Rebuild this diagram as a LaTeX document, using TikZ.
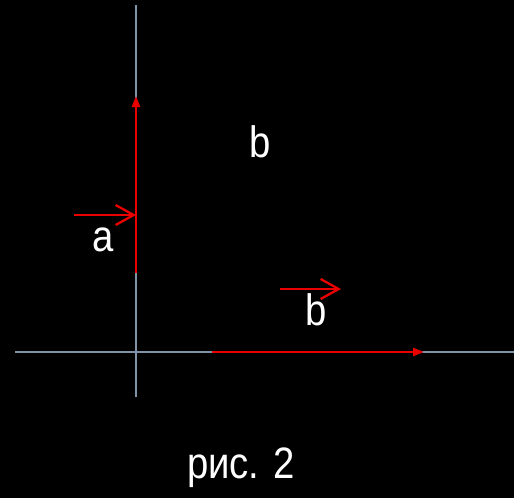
\documentclass[tikz,border=0pt]{standalone}
\usepackage{fontspec}
\setmainfont[FakeStretch=0.87]{Liberation Sans}
\usetikzlibrary{arrows.meta}
\definecolor{axisgray}{RGB}{128,146,166}
\definecolor{vecred}{RGB}{235,0,0}

\begin{document}
\begin{tikzpicture}[x=1pt, y=-1pt,
    axis/.style={axisgray, line width=2pt},
    vec/.style={-{Triangle[length=11pt, width=8pt]}, vecred, line width=2.3pt},
    hint/.style={-{Straight Barb[length=18pt, width=20pt]}, vecred, line width=2.3pt},
    lbl/.style={white, inner sep=0pt, font=\fontsize{44}{52}\selectfont}
  ]
  \fill[black] (0,0) rectangle (514,498);
  \useasboundingbox (0,0) rectangle (514,498);
  % axes
  \coordinate (ytop) at (136,5);
  \coordinate (ybot) at (136,397);
  \coordinate (xleft) at (15,352);
  \coordinate (xright) at (514,352);
  \draw[axis] (ybot) -- (ytop);
  \draw[axis] (xleft) -- (xright);
  % vectors
  \coordinate (astart) at (136,273);
  \coordinate (aend) at (136,96);
  \coordinate (bstart) at (212,352);
  \coordinate (bend) at (424,352);
  \draw[vec] (astart) -- (aend);
  \draw[vec] (bstart) -- (bend);
  % labels with arrows
  \node[lbl] (la) at (103,240) {a};
  \node[lbl] (lb) at (316,310) {b};
  \node[lbl] (lbtop) at (260,142) {b};
  \coordinate (hinta) at (74,215);
  \coordinate (hintaend) at (136,215);
  \coordinate (hintb) at (280,289);
  \coordinate (hintbend) at (341,289);
  \draw[hint] (hinta) -- (hintaend);
  \draw[hint] (hintb) -- (hintbend);
  \node[lbl, anchor=base] (cap) at (241,478) {рис. 2};
\end{tikzpicture}
\end{document}
